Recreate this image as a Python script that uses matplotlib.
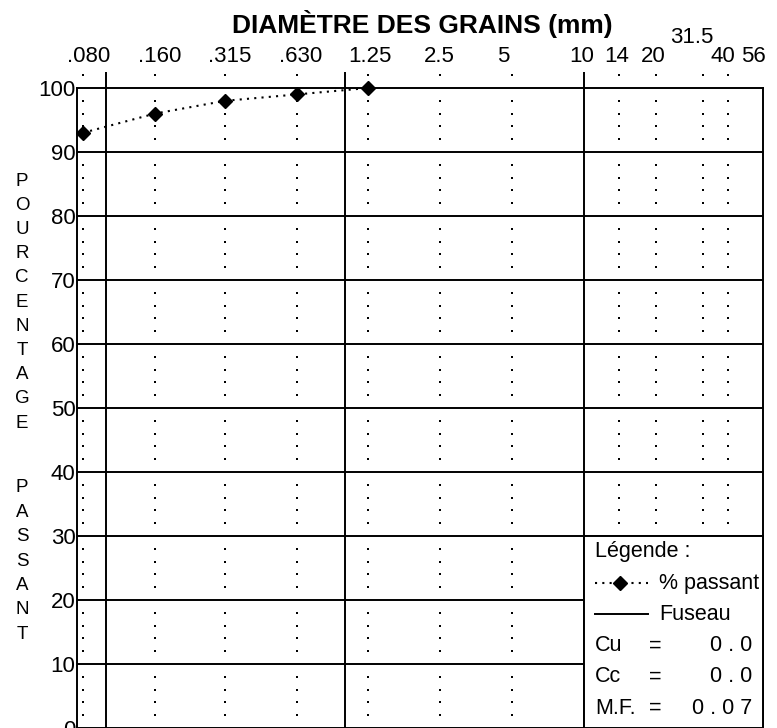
import matplotlib
matplotlib.use('Agg')
import matplotlib.pyplot as plt
from matplotlib.patches import Rectangle

plt.rcParams['font.family'] = ['Liberation Sans', 'DejaVu Sans']

# tamis (mm) et etiquettes du haut
tamis = [0.080, 0.160, 0.315, 0.630, 1.25, 2.5, 5, 10, 14, 20, 31.5, 40, 56]
tamis_lbl = ['.080', '.160', '.315', '.630', '1.25', '2.5', '5', '10', '14', '20', '31.5', '40', '56']
lbl_dx = [6, 5, 4, 3, 2, -1, -9, -2, -2, -3, -11, -5, -10]   # px

# resultats de l'essai
d_essai = [0.080, 0.160, 0.315, 0.630, 1.25]
passant = [93, 96, 98, 99, 100]

cu, cc, mf = 0.0, 0.0, 0.07

fig = plt.figure(figsize=(7.77, 7.28), dpi=100)
ax = fig.add_axes([77/777, 0, 686/777, 640/728])
ax.set_xscale('log')
ax.set_xlim(0.0755, 56)
ax.set_ylim(0, 100)
ax.set_xticks([])
ax.set_xticks([], minor=True)
ax.set_yticks(range(0, 101, 10))
ax.tick_params(axis='y', length=0, pad=1, labelsize=16)
for sp in ax.spines.values():
    sp.set_linewidth(1.4)

# quadrillage
for y in range(10, 100, 10):
    ax.axhline(y, color='k', lw=1.4, zorder=2)
ax.vlines([0.1, 1, 10], 0, 102.5, color='k', lw=1.4, zorder=2, clip_on=False)

pts = [y for y in range(2, 103, 2) if y % 10]
for x in tamis:
    if x in (10, 56):
        continue
    ax.plot([x]*len(pts), pts, 's', ms=2.1, mew=0, color='k', zorder=2, clip_on=False)

# etiquettes des tamis
for v, s, dx in zip(tamis, tamis_lbl, lbl_dx):
    dy = 50.5 if s == '31.5' else 31
    ax.annotate(s, xy=(v, 1), xycoords=('data', 'axes fraction'),
                xytext=(dx*0.72, dy*0.72), textcoords='offset points',
                ha='center', va='center', fontsize=16)

# courbe granulometrique
ax.plot(d_essai, passant, color='k', ls=(0, (1, 2.5)), lw=1.5,
        marker='D', ms=6.8, zorder=5, clip_on=False)

# cadre de la legende
ax.add_patch(Rectangle((10, 0), 46, 30, fc='white', ec='k', lw=1.4, zorder=3, clip_on=False))
rows = [0.275 - i*0.0488 for i in range(6)]
kw = dict(transform=ax.transAxes, va='center', fontsize=15.5, zorder=6)
ax.text(0.755, rows[0], 'Légende :', ha='left', **kw)
ax.plot([0.755, 0.8324], [rows[1]]*2, transform=ax.transAxes, color='k',
        ls=(0, (1, 2.5)), lw=1.5, zorder=6, clip_on=False)
ax.plot([0.7915], [rows[1]], 'D', ms=6.8, color='k', transform=ax.transAxes, zorder=6, clip_on=False)
ax.text(0.8484, rows[1], '% passant', ha='left', **kw)
ax.plot([0.755, 0.8324], [rows[2]]*2, transform=ax.transAxes, color='k', lw=1.4, zorder=6)
ax.text(0.8484, rows[2], 'Fuseau', ha='left', **kw)
for r, name, val in zip(rows[3:], ['Cu', 'Cc', 'M.F.'], [f'{cu:.1f}', f'{cc:.1f}', f'{mf:.2f}']):
    ax.text(0.755, r, name, ha='left', **kw)
    ax.text(0.8426, r, '=', ha='center', **kw)
    ax.text(0.984, r, ' '.join(val), ha='right', **kw)

# titres
fig.text(422/777, 1 - 24/728, 'DIAMÈTRE DES GRAINS (mm)', ha='center', va='center',
         fontsize=19, fontweight='bold')
for i, c in enumerate('POURCENTAGE'):
    fig.text(22/777, 1 - (181 + i*24.2)/728, c, ha='center', va='center', fontsize=13.5)
for i, c in enumerate('PASSANT'):
    fig.text(22/777, 1 - (488 + i*24.4)/728, c, ha='center', va='center', fontsize=13.5)

fig.savefig('out.png', dpi=100)
